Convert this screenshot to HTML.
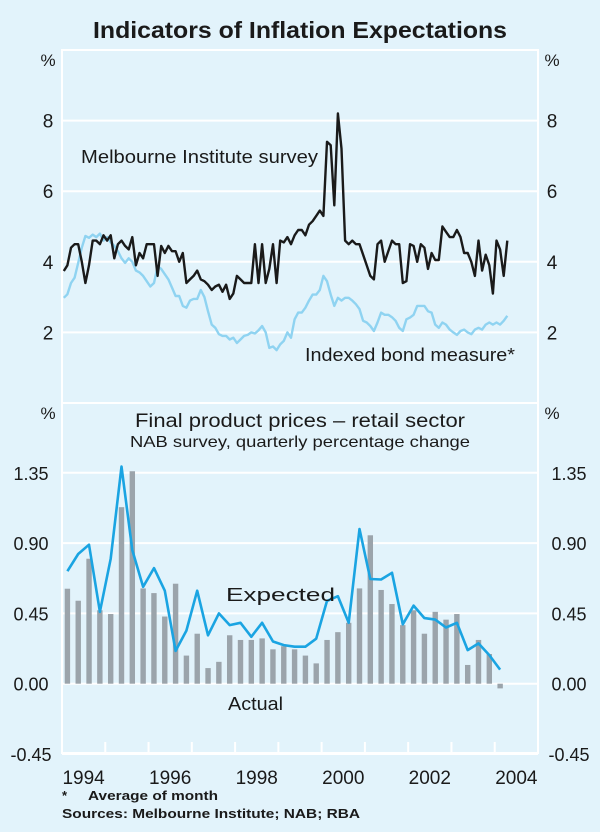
<!DOCTYPE html>
<html><head><meta charset="utf-8">
<style>
html,body{margin:0;padding:0;background:#e2f3fb;}
svg{display:block;font-family:"Liberation Sans",Arial,sans-serif;}
</style></head>
<body>
<svg id="chart" width="600" height="832" viewBox="0 0 600 832">
<rect x="0" y="0" width="600" height="832" fill="#e2f3fb"/>
<text x="300" y="38" text-anchor="middle" font-size="23" font-weight="bold" fill="#1a1a1a" textLength="414" lengthAdjust="spacingAndGlyphs">Indicators of Inflation Expectations</text>
<g id="grid"></g>
<g id="bars"></g>
<g id="lines"></g>
<g id="labels" fill="#1a1a1a" font-size="16">
<text x="48" y="66" text-anchor="middle" font-size="17">%</text>
<text x="552" y="66" text-anchor="middle" font-size="17">%</text>
<text x="48" y="419" text-anchor="middle" font-size="17">%</text>
<text x="552" y="419" text-anchor="middle" font-size="17">%</text>
<text x="81" y="163" font-size="18" textLength="237" lengthAdjust="spacingAndGlyphs">Melbourne Institute survey</text>
<text x="305" y="361" font-size="18" textLength="210" lengthAdjust="spacingAndGlyphs">Indexed bond measure*</text>
<text x="300" y="427" text-anchor="middle" font-size="19" textLength="330" lengthAdjust="spacingAndGlyphs">Final product prices – retail sector</text>
<text x="300" y="447" text-anchor="middle" font-size="16" textLength="340" lengthAdjust="spacingAndGlyphs">NAB survey, quarterly percentage change</text>
<text x="226" y="601" font-size="18" textLength="109" lengthAdjust="spacingAndGlyphs">Expected</text>
<text x="228" y="710" font-size="18" textLength="55" lengthAdjust="spacingAndGlyphs">Actual</text>
<text x="62" y="800" font-size="13" font-weight="bold">*</text>
<text x="88" y="800" font-size="13" font-weight="bold" textLength="130" lengthAdjust="spacingAndGlyphs">Average of month</text>
<text x="62" y="818" font-size="13" font-weight="bold" textLength="298" lengthAdjust="spacingAndGlyphs">Sources: Melbourne Institute; NAB; RBA</text>
</g>
</svg>
<script>
const melbourne = [3.74,3.9,4.4,4.5,4.5,4.0,3.4,3.9,4.6,4.6,4.5,4.75,4.6,4.75,4.1,4.5,4.6,4.45,4.35,4.7,3.9,4.25,4.1,4.5,4.5,4.5,3.6,4.45,4.25,4.45,4.3,4.3,4.0,4.25,3.4,3.5,3.6,3.75,3.5,3.45,3.35,3.2,3.3,3.35,3.15,3.35,2.95,3.1,3.6,3.5,3.4,3.4,3.4,4.5,3.4,4.5,3.4,3.8,4.5,3.4,4.6,4.55,4.7,4.5,4.75,4.9,4.9,4.75,5.05,5.15,5.3,5.45,5.3,7.4,7.3,5.6,8.2,7.2,4.6,4.5,4.6,4.5,4.5,4.2,3.9,3.6,3.5,4.5,4.6,4.0,4.3,4.6,4.5,4.5,3.4,3.45,4.5,4.45,4.0,4.5,4.4,3.8,4.25,4.05,4.05,5.0,4.85,4.7,4.7,4.9,4.7,4.25,4.25,4.0,3.6,4.6,3.75,4.2,3.9,3.1,4.6,4.35,3.6,4.6];
const indexedBond = [2.98,3.08,3.4,3.55,3.97,4.4,4.73,4.68,4.77,4.7,4.8,4.6,4.7,4.55,4.45,4.3,4.1,3.97,4.1,4.0,3.75,3.7,3.6,3.45,3.3,3.4,3.87,3.8,3.65,3.5,3.27,3.03,3.03,2.75,2.7,2.9,2.95,2.95,3.2,3.0,2.6,2.22,2.13,1.95,1.9,1.9,1.8,1.85,1.7,1.8,1.9,1.93,2.0,1.97,2.06,2.18,2.0,1.56,1.6,1.5,1.66,1.76,2.0,1.85,2.37,2.56,2.56,2.7,2.9,3.07,3.07,3.2,3.6,3.45,3.07,2.75,2.98,2.9,2.98,2.98,2.9,2.8,2.66,2.33,2.28,2.18,2.04,2.28,2.56,2.5,2.5,2.43,2.33,2.13,2.04,2.37,2.42,2.5,2.75,2.75,2.75,2.6,2.56,2.22,2.13,2.28,2.22,2.08,2.0,1.93,2.04,2.08,2.0,1.95,2.08,2.13,2.08,2.22,2.28,2.22,2.28,2.22,2.33,2.47];
const actual = [0.608,0.531,0.80,0.47,0.446,1.13,1.36,0.61,0.58,0.43,0.64,0.18,0.32,0.10,0.14,0.31,0.28,0.28,0.29,0.22,0.24,0.22,0.18,0.13,0.28,0.33,0.39,0.61,0.95,0.60,0.51,0.375,0.47,0.32,0.46,0.41,0.446,0.12,0.28,0.19,-0.03];
const expected = [0.72,0.83,0.89,0.46,0.80,1.39,0.855,0.62,0.74,0.595,0.21,0.34,0.595,0.31,0.45,0.375,0.39,0.30,0.39,0.27,0.247,0.237,0.237,0.288,0.53,0.56,0.39,0.99,0.67,0.667,0.71,0.38,0.50,0.42,0.41,0.36,0.39,0.215,0.258,0.183,0.09];
const topTicks = [2,4,6,8];
const bottomTicks = [-0.45,0,0.45,0.9,1.35];
const bottomTickLabels = ["-0.45","0.00","0.45","0.90","1.35"];
const yearLabels = [1994,1996,1998,2000,2002,2004];

const NS="http://www.w3.org/2000/svg";
const L=62,R=538,T=50,MID=403,B=753;
const xYear = t => L + (t-1994)*(R-L)/11;
const yTop = v => MID - v*(MID-T)/10;
const yBot = v => 683.7 - v*(70.3/0.45);
function mk(tag,attrs,parent){const e=document.createElementNS(NS,tag);for(const k in attrs)e.setAttribute(k,attrs[k]);document.getElementById(parent).appendChild(e);return e;}

mk('rect',{x:L,y:T,width:R-L,height:B-T,fill:'none',stroke:'#fff','stroke-width':2},'grid');
const d0=mk('line',{x1:L,x2:R,y1:MID,y2:MID,stroke:'#fff','stroke-width':2},'grid');


topTicks.forEach(v=>{
  const g=mk('line',{x1:L,x2:R,y1:yTop(v),y2:yTop(v),stroke:'#fff','stroke-width':2},'grid');
  
  
  [48,552].forEach(x=>{
    const t=mk('text',{x:x,y:yTop(v)+7,'text-anchor':'middle','font-size':19,fill:'#1a1a1a'},'labels');
    t.textContent=v;
    
    
  });
});
bottomTicks.forEach((v,i)=>{
  const g=mk('line',{x1:L,x2:R,y1:yBot(v),y2:yBot(v),stroke:'#fff','stroke-width':2},'grid');
  
  
  [31,569].forEach(x=>{
    const t=mk('text',{x:x,y:yBot(v)+7,'text-anchor':'middle','font-size':18,fill:'#1a1a1a'},'labels');
    t.textContent=bottomTickLabels[i];
    
    
  });
});
for(let y=1995;y<=2004;y++){
  const tk=mk('line',{x1:xYear(y),x2:xYear(y),y1:B-11,y2:B,stroke:'#fff','stroke-width':2},'grid');
  
  
}
yearLabels.forEach(y=>{
  const t=mk('text',{x:xYear(y+0.5),y:784,'text-anchor':'middle','font-size':19,fill:'#1a1a1a'},'labels');
  t.textContent=y;
  
  
});

actual.forEach((v,i)=>{
  const xc=xYear(1994+(i+0.5)/4);
  const y0=yBot(0),y1=yBot(v);
  const r=mk('rect',{x:xc-2.7,y:Math.min(y0,y1),width:5.4,height:Math.max(1,Math.abs(y1-y0)),fill:'#9ba4ab'},'bars');
  
  
});

function path(arr,xf,yf){return arr.map((v,i)=>(i?'L':'M')+xf(i).toFixed(1)+','+yf(v).toFixed(1)).join('');}
const p1=mk('path',{d:path(indexedBond,i=>xYear(1994+(i+0.5)/12),yTop),fill:'none',stroke:'#8fd3f1','stroke-width':2.4,'stroke-linejoin':'round'},'lines');


const p2=mk('path',{d:path(melbourne,i=>xYear(1994+(i+0.5)/12),yTop),fill:'none',stroke:'#1a1a1a','stroke-width':2.4,'stroke-linejoin':'round'},'lines');


const p3=mk('path',{d:path(expected,i=>xYear(1994+(i+0.5)/4),yBot),fill:'none',stroke:'#1aa4e2','stroke-width':2.6,'stroke-linejoin':'round'},'lines');


</script>
</body></html>
